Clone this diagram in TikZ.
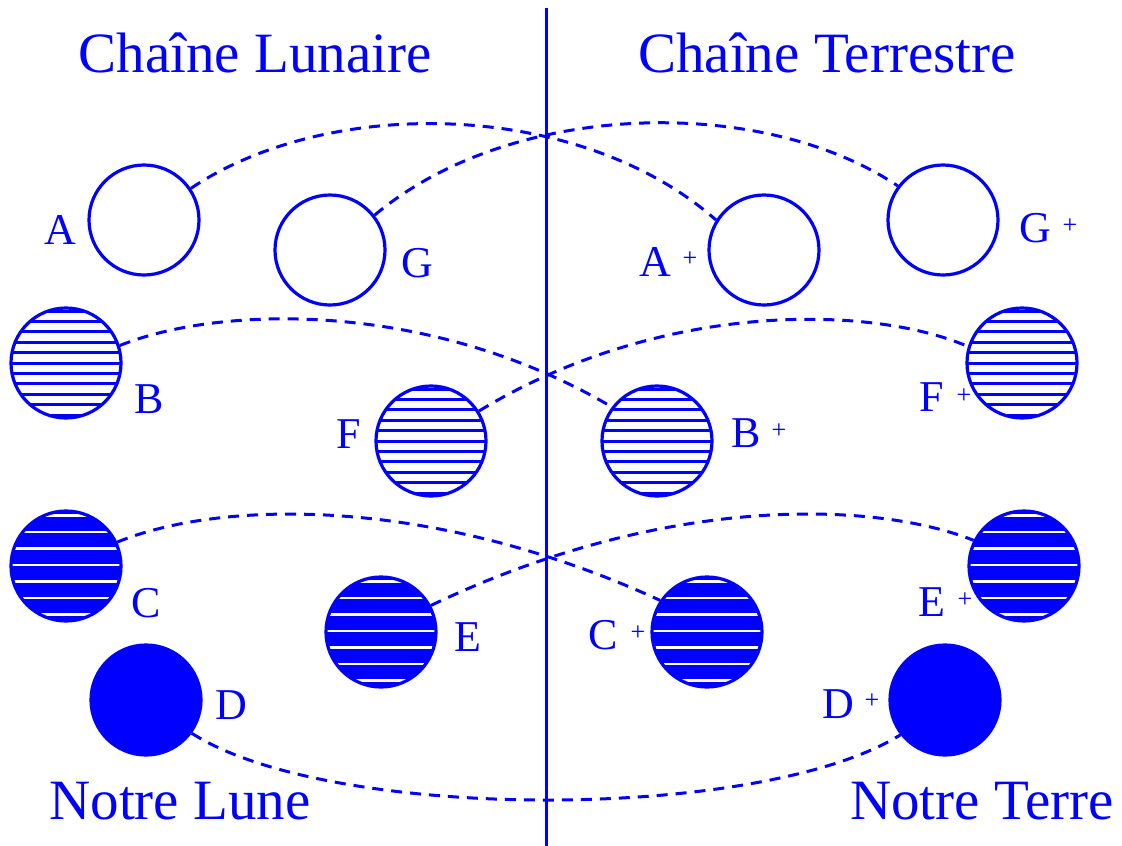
\documentclass[tikz,border=0pt]{standalone}
\usepackage{fontspec}
\setmainfont{Liberation Serif}
\usetikzlibrary{calc}
\definecolor{pblue}{RGB}{0,0,255}
\tikzset{
 planet/.style={circle, draw=pblue, line width=3.2, minimum size=110, inner sep=0},
 light/.style={planet, path picture={\foreach \k in {-5,...,5}{\draw[pblue,line width=3] ($(path picture bounding box.center)+(-70,\k*10.4)$) -- ++(140,0);}}},
 dense/.style={planet, fill=pblue, path picture={\foreach \k in {-3,...,3}{\draw[white,line width=2.2] ($(path picture bounding box.center)+(-70,\k*16.5-1)$) -- ++(140,0);}}},
 full/.style={planet, fill=pblue},
 lbl/.style={font=\fontsize{44}{48}\selectfont, text=pblue, inner sep=0},
 pl/.style={font=\fontsize{26}{28}\selectfont, text=pblue, inner sep=0},
 ttl/.style={font=\fontsize{57}{60}\selectfont, text=pblue, inner sep=0, anchor=base},
 link/.style={draw=pblue, line width=3, dash pattern=on 11pt off 8pt},
}
\begin{document}
\begin{tikzpicture}[x=1pt,y=-1pt]
\useasboundingbox (0,0) rectangle (1122,846);
% divider
\coordinate (top) at (546,8);
\coordinate (bot) at (546,846);
\draw[pblue, line width=3] (top) -- (bot);
% titles
\node[ttl] (tL) at (255,72) {Chaîne Lunaire};
\node[ttl] (tT) at (827,72) {Chaîne Terrestre};
\node[ttl] (nL) at (180,819) {Notre Lune};
\node[ttl] (nT) at (982,819) {Notre Terre};
% planets
\node[planet] (A) at (144,220) {};
\node[planet] (G) at (330,250) {};
\node[planet] (Ap) at (764,250) {};
\node[planet] (Gp) at (943,220) {};
\node[light] (B) at (66,363) {};
\node[light] (F) at (431,441) {};
\node[light] (Bp) at (657,441) {};
\node[light] (Fp) at (1022,363) {};
\node[dense] (C) at (66,566) {};
\node[dense] (E) at (381,632) {};
\node[dense] (Cp) at (707,632) {};
\node[dense] (Ep) at (1024,566) {};
\node[full] (D) at (146,700) {};
\node[full] (Dp) at (945,700) {};
% labels
\node[lbl] (lA) at (60,230) {A};
\node[lbl] (lG) at (417,263) {G};
\node[lbl] (lAp) at (655,262) {A};
\node[pl] (pAp) at (690,259) {+};
\node[lbl] (lGp) at (1035,228) {G};
\node[pl] (pGp) at (1070,226) {+};
\node[lbl] (lB) at (149,399) {B};
\node[lbl] (lF) at (349,434) {F};
\node[lbl] (lBp) at (746,433) {B};
\node[pl] (pBp) at (779,431) {+};
\node[lbl] (lFp) at (932,397) {F};
\node[pl] (pFp) at (964,396) {+};
\node[lbl] (lC) at (146,603) {C};
\node[lbl] (lE) at (468,637) {E};
\node[lbl] (lCp) at (603,635) {C};
\node[pl] (pCp) at (638,633) {+};
\node[lbl] (lEp) at (932,602) {E};
\node[pl] (pEp) at (965,600) {+};
\node[lbl] (lD) at (231,705) {D};
\node[lbl] (lDp) at (838,704) {D};
\node[pl] (pDp) at (872,701) {+};
% links
\draw[link] (A.34) .. controls (330,95) and (580,100) .. (Ap.148);
\draw[link] (G.38) .. controls (512,100) and (762,95) .. (Gp.143);
\draw[link] (B.18) .. controls (220,305) and (430,300) .. (Bp.143);
\draw[link] (F.32) .. controls (662,300) and (872,305) .. (Fp.163);
\draw[link] (C.25) .. controls (220,500) and (430,495) .. (Cp.146);
\draw[link] (E.28) .. controls (662,495) and (872,500) .. (Ep.153);
\draw[link] (D.-36) .. controls (330,822) and (760,822) .. (Dp.-142);
\end{tikzpicture}
\end{document}
